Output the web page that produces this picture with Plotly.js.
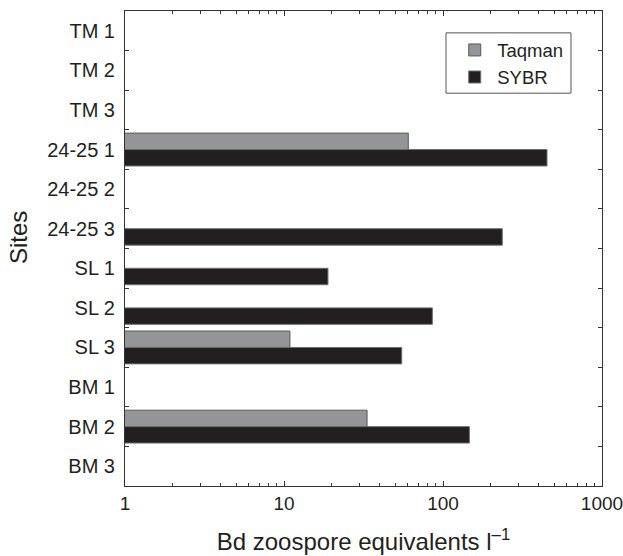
<!DOCTYPE html>
<html>
<head>
<meta charset="utf-8">
<script src="https://cdn.plot.ly/plotly-3.0.1.min.js"></script>
<style>html,body{margin:0;padding:0;background:#fff;}#chart{width:623px;height:556px;}</style>
</head>
<body>
<div id="chart"></div>
<script>
const sites = ["TM 1","TM 2","TM 3","24-25 1","24-25 2","24-25 3","SL 1","SL 2","SL 3","BM 1","BM 2","BM 3"];
const taqman = [null,null,null,60.5,null,null,null,null,10.9,null,33.3,null];
const sybr   = [null,null,null,451,null,236,18.9,85.7,55,null,146.5,null];
const xTickVals = [1,10,100,1000];
const xTickText = ["1","10","100","1000"];
const xMinorVals = [2,3,4,5,6,7,8,9,20,30,40,50,60,70,80,90,200,300,400,500,600,700,800,900];

const ink = "#231f20";
const font = "Liberation Sans, Arial, Helvetica, sans-serif";

const traces = [
  {type:"bar", orientation:"h", name:"Taqman", y:sites, x:taqman,
   marker:{color:"#939598", line:{color:"#58595b", width:1}}},
  {type:"bar", orientation:"h", name:"SYBR", y:sites, x:sybr,
   marker:{color:ink, line:{color:"#6d6e71", width:1}}}
];

const layout = {
  width:623, height:556,
  margin:{l:125, r:21, t:11, b:70},
  paper_bgcolor:"#fff", plot_bgcolor:"#fff",
  font:{family:font, color:ink, size:17},
  barmode:"group", bargap:0.17, bargroupgap:0,
  showlegend:true,
  legend:{x:0.686, y:0.957, xanchor:"left", yanchor:"top",
    bgcolor:"rgba(0,0,0,0)", borderwidth:0,
    font:{family:font, size:18.5, color:ink}, itemwidth:35, tracegroupgap:0},
  shapes:[{type:"rect", xref:"paper", yref:"paper", x0:0.673, x1:0.935, y0:0.827, y1:0.954,
    line:{color:"#555", width:1}, fillcolor:"rgba(0,0,0,0)", layer:"above"}],
  annotations:[{text:"Sites", xref:"paper", yref:"paper", x:-0.2243, y:0.522,
    xanchor:"center", yanchor:"middle", textangle:-90, showarrow:false,
    font:{family:font, size:24, color:ink}}],
  xaxis:{type:"log", range:[0,3], tickvals:xTickVals, ticktext:xTickText,
    ticks:"inside", ticklen:5, tickcolor:"#333", showgrid:false, zeroline:false,
    showline:true, linecolor:"#333", linewidth:1, mirror:"ticks",
    ticklabeloverflow:"allow",
    minor:{tickvals:xMinorVals, ticks:"inside", ticklen:3, tickcolor:"#333", showgrid:false},
    tickfont:{family:font, size:19, color:ink},
    title:{text:"Bd zoospore equivalents l<sup>–1</sup>", font:{family:font, size:24, color:ink}, standoff:20}},
  yaxis:{type:"category", categoryorder:"array", categoryarray:sites, autorange:"reversed",
    tickson:"boundaries", ticks:"inside", ticklen:4, tickcolor:"#333", showgrid:false,
    showline:true, linecolor:"#333", linewidth:1, mirror:"ticks", ticklabelstandoff:5,
    tickfont:{family:font, size:20, color:ink}}
};

Plotly.newPlot("chart", traces, layout, {displayModeBar:false, staticPlot:true});
</script>
</body>
</html>
